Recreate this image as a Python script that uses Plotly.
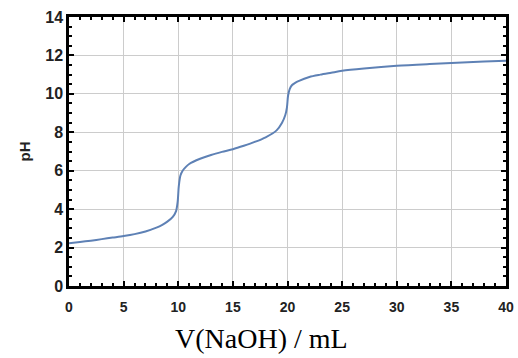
import plotly.graph_objects as go

volume_ml = [0, 1, 2, 3, 4, 5, 6, 7, 8, 8.5, 9, 9.5, 9.8, 9.95, 10.05, 10.2, 10.4, 10.7, 11, 12, 13, 14, 15, 16,
             17, 18, 19, 19.5, 19.8, 19.95, 20.05, 20.2, 20.4, 20.7, 21, 22, 23, 24, 25, 27, 30, 33, 35, 38, 40]
ph_values = [2.22, 2.29, 2.36, 2.44, 2.52, 2.6, 2.7, 2.84, 3.04, 3.17, 3.35, 3.6, 3.9, 4.4, 5.2, 5.75, 6.0, 6.2,
             6.35, 6.62, 6.82, 6.98, 7.12, 7.3, 7.5, 7.74, 8.1, 8.5, 8.9, 9.3, 9.9, 10.25, 10.45, 10.57, 10.66,
             10.88, 11.0, 11.1, 11.2, 11.32, 11.46, 11.55, 11.6, 11.68, 11.72]

x_ticks = [0, 5, 10, 15, 20, 25, 30, 35, 40]
y_ticks = [0, 2, 4, 6, 8, 10, 12, 14]

x_tick_font = dict(family="Liberation Sans, Arial, sans-serif", size=14, color="#222222")
y_tick_font = dict(family="Liberation Sans, Arial, sans-serif", size=16, color="#222222")

fig = go.Figure()
fig.add_trace(go.Scatter(x=volume_ml, y=ph_values, mode="lines",
                         line=dict(color="rgb(94,129,181)", width=2, shape="spline", smoothing=0.8),
                         showlegend=False, hoverinfo="skip"))

fig.update_layout(
    width=518, height=358,
    margin=dict(l=69, r=12, t=17, b=72, autoexpand=False),
    paper_bgcolor="white", plot_bgcolor="white",
    xaxis=dict(range=[0, 40], tickvals=x_ticks, ticktext=[f"<b>{v}</b>" for v in x_ticks],
               showgrid=True, gridcolor="#cccccc", gridwidth=1, automargin=False,
               showline=True, linecolor="black", linewidth=2.5, mirror="allticks",
               ticks="inside", ticklen=5, tickwidth=2, tickcolor="black", ticklabelstandoff=6,
               minor=dict(dtick=1, ticks="inside", ticklen=3, tickwidth=1.5, tickcolor="black", showgrid=False),
               tickfont=x_tick_font, zeroline=False),
    yaxis=dict(range=[0, 14], tickvals=y_ticks, ticktext=[f"<b>{v}</b>" for v in y_ticks],
               showgrid=True, gridcolor="#cccccc", gridwidth=1, automargin=False,
               showline=True, linecolor="black", linewidth=2.5, mirror="allticks",
               ticks="inside", ticklen=5, tickwidth=2, tickcolor="black",
               minor=dict(dtick=0.5, ticks="inside", ticklen=3, tickwidth=1.5, tickcolor="black",
                          showgrid=False),
               tickfont=y_tick_font, zeroline=False,
               title=dict(text="<b>pH</b>", font=dict(family="Liberation Sans, Arial, sans-serif", size=15, color="#222222"), standoff=12)),
    yaxis2=dict(range=[0, 14], overlaying="y", dtick=1, tick0=0, showgrid=True, gridcolor="#cccccc", gridwidth=1,
                showticklabels=False, ticks="", showline=False, zeroline=False, automargin=False),
    annotations=[dict(text="V(NaOH) / mL", xref="paper", yref="paper", x=0.4416, y=-0.197,
                      xanchor="center", yanchor="middle", showarrow=False,
                      font=dict(family="Liberation Serif, Times New Roman, serif", size=28, color="black"))],
)

fig.write_html("out.html", config={"displayModeBar": False},
               post_script="document.body.style.margin='0';document.body.style.overflow='hidden';")
